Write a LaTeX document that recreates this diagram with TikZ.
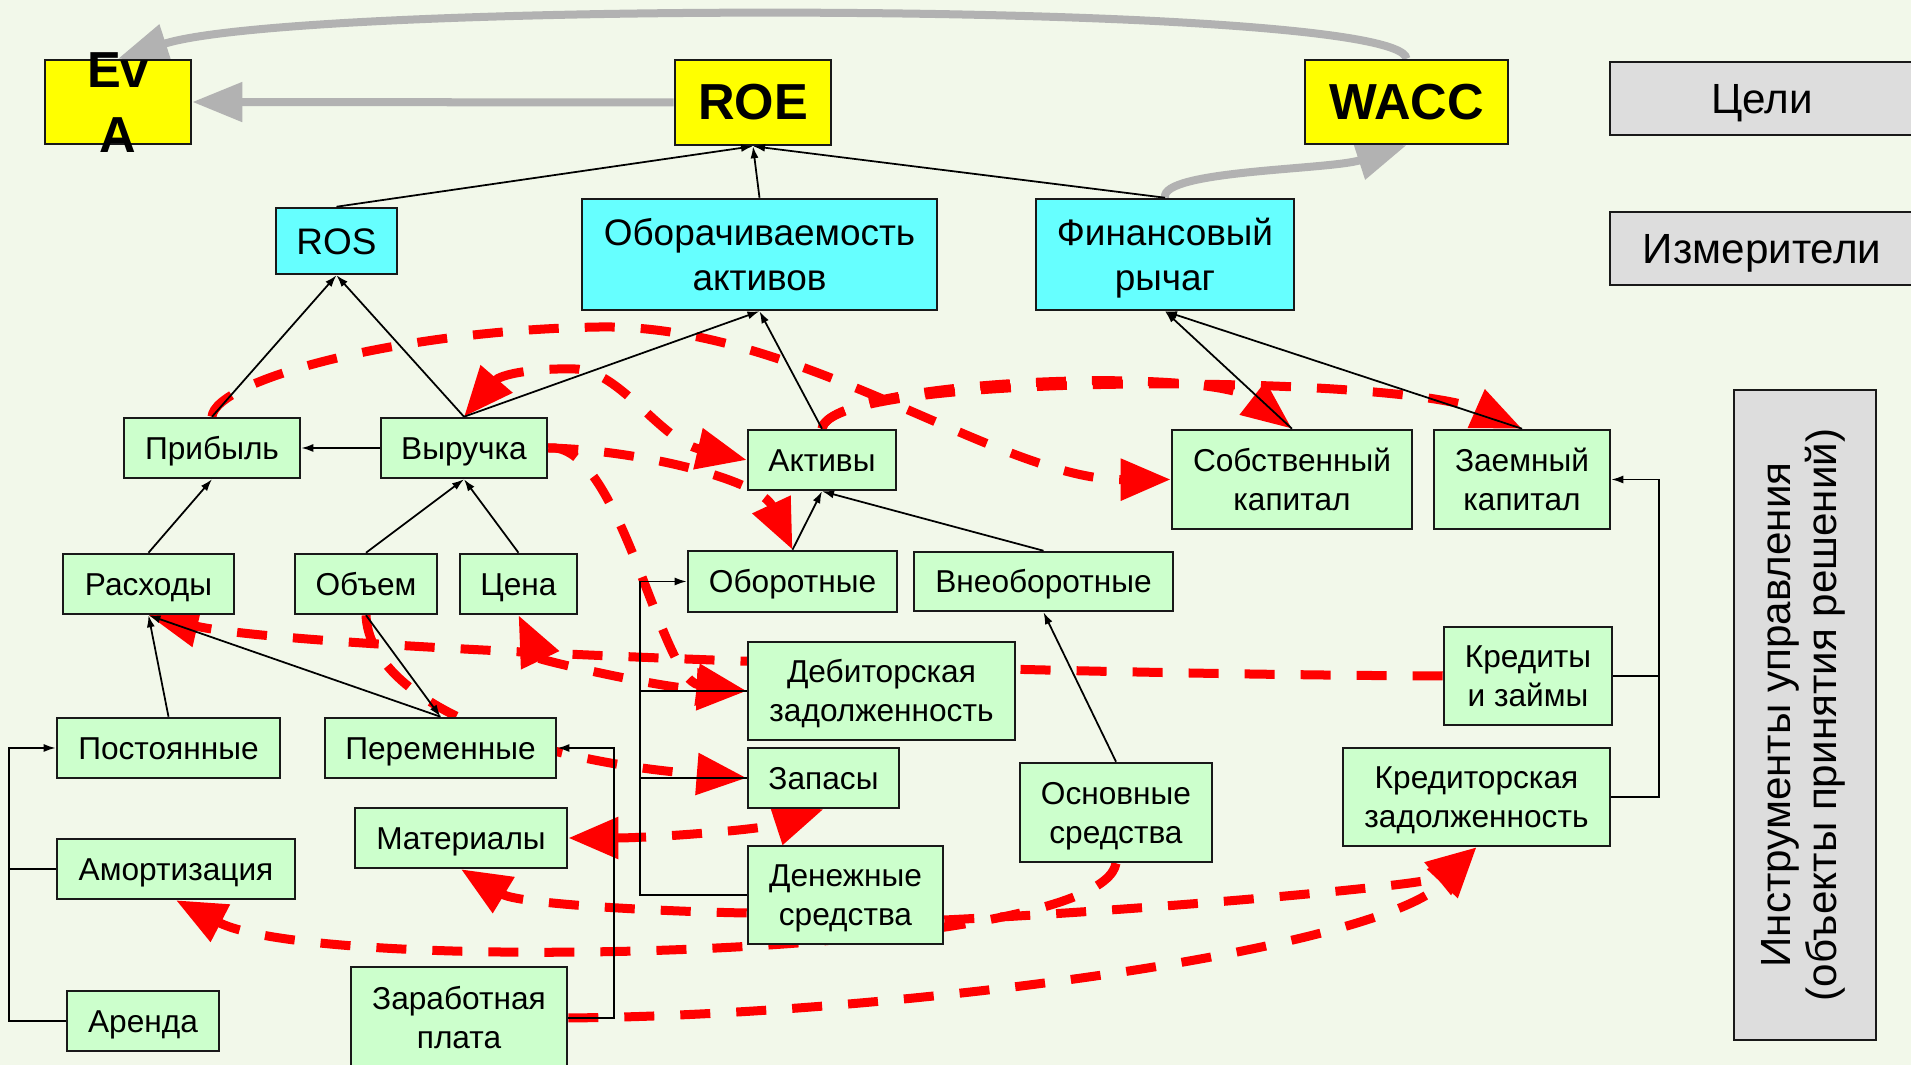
\documentclass[tikz,border=0pt]{standalone}
\usepackage{fontspec}
\setmainfont{Liberation Sans}
\usetikzlibrary{arrows.meta,calc}
\definecolor{BackClr}{rgb}{0.949,0.973,0.918}
\definecolor{GoalClr}{rgb}{1,1,0}
\definecolor{MeterClr}{rgb}{0.4,1,1}
\definecolor{ToolClr}{rgb}{0.8,1,0.8}
\definecolor{NoteClr}{rgb}{0.867,0.867,0.867}
\definecolor{FlowClr}{rgb}{0.7,0.7,0.7}
\definecolor{EdgeClr}{rgb}{0.1,0.1,0.1}
\newcommand\boxtop{\rule{0pt}{1.016em}}
\newcommand\boxfoot{\rule[-0.3em]{0pt}{0.3em}}
\newcommand\twoline[2]{\boxtop#1\\#2\boxfoot}
\pgfdeclarelayer{back}
\pgfsetlayers{back,main}

\begin{document}
\begin{tikzpicture}[x=0.01cm,y=-0.01cm,
  frame/.style={draw=EdgeClr,line width=0.7pt,inner sep=0pt,align=center},
  box/.style={frame,execute at begin node=\boxtop,execute at end node=\boxfoot},
  goal/.style={frame,fill=GoalClr,font=\fontsize{14.4}{18.5}\selectfont\bfseries},
  meter/.style={box,fill=MeterClr,font=\fontsize{10.5}{12.8}\selectfont},
  tool/.style={box,fill=ToolClr,font=\fontsize{9}{11.1}\selectfont},
  note/.style={box,fill=NoteClr,font=\fontsize{12}{13.1}\selectfont},
  link/.style={line width=0.5pt,>={Latex[length=1.2mm,width=0.8mm]},->},
  rail/.style={line width=0.6pt},
  plan/.style={red,line width=0.09cm,dash pattern=on 0.3cm off 0.26cm,>={Triangle[length=5mm,width=4mm]},->},
  twoway/.style={plan,<->},
  flow/.style={FlowClr,line width=0.08cm,>={Triangle[length=5mm,width=3.8mm]},->}]
\useasboundingbox (0,0) rectangle (1911,1065);

\node[goal,minimum width=1.46cm,minimum height=0.84cm] (eva) at (118,102)
  {\raisebox{-0.13cm}[0pt][0pt]{\parbox[c]{1.4cm}{\centering Ev\\A}}};
\node[goal,minimum width=1.56cm,minimum height=0.85cm] (roe) at (753,102.5) {ROE};
\node[goal,minimum width=2.03cm,minimum height=0.84cm] (wacc) at (1406.5,102) {WACC};

\node[note,minimum width=3.04cm,minimum height=0.73cm] (aims) at (1762,98.5) {Цели};
\node[note,minimum width=3.04cm,minimum height=0.73cm] (gauges) at (1762,248.5) {Измерители};
\node[note,rotate=90,minimum width=6.5cm,minimum height=1.42cm] (levers) at (1805,715) {Инструменты управления\\(объекты принятия решений)};

\node[meter,minimum width=1.21cm,minimum height=0.66cm] (ros) at (336.5,241) {ROS};
\node[meter,minimum width=3.55cm,minimum height=1.11cm] (turn) at (759.5,254.5) {\twoline{Оборачиваемость}{активов}};
\node[meter,minimum width=2.58cm,minimum height=1.11cm] (lev) at (1165,254.5) {\twoline{Финансовый}{рычаг}};

\node[tool,minimum width=1.76cm,minimum height=0.6cm] (profit) at (212,448) {Прибыль};
\node[tool,minimum width=1.66cm,minimum height=0.6cm] (rev) at (464,448) {Выручка};
\node[tool,minimum width=1.48cm,minimum height=0.6cm] (assets) at (822,460) {Активы};
\node[tool,minimum width=2.4cm,minimum height=0.99cm] (equity) at (1292,479.5) {\twoline{Собственный}{капитал}};
\node[tool,minimum width=1.76cm,minimum height=0.99cm] (debt) at (1522,479.5) {\twoline{Заемный}{капитал}};
\node[tool,minimum width=1.71cm,minimum height=0.6cm] (cost) at (148.5,584) {Расходы};
\node[tool,minimum width=1.42cm,minimum height=0.6cm] (vol) at (366,584) {Объем};
\node[tool,minimum width=1.17cm,minimum height=0.6cm] (price) at (518.5,584) {Цена};
\node[tool,minimum width=2.09cm,minimum height=0.61cm] (curr) at (792.5,581.5) {Оборотные};
\node[tool,minimum width=2.59cm,minimum height=0.59cm] (noncurr) at (1043.5,581.5) {Внеоборотные};
\node[tool,minimum width=2.67cm,minimum height=0.98cm] (recv) at (881.5,691) {\twoline{Дебиторская}{задолженность}};
\node[tool,minimum width=1.68cm,minimum height=0.98cm] (loans) at (1528,676) {\twoline{Кредиты}{и займы}};
\node[tool,minimum width=2.23cm,minimum height=0.6cm] (fixed) at (168.5,748) {Постоянные};
\node[tool,minimum width=2.31cm,minimum height=0.6cm] (var) at (440.5,748) {Переменные};
\node[tool,minimum width=1.51cm,minimum height=0.6cm] (stock) at (823.5,778) {Запасы};
\node[tool,minimum width=2.12cm,minimum height=0.6cm] (mat) at (461,838) {Материалы};
\node[tool,minimum width=2.38cm,minimum height=0.6cm] (depr) at (176,869) {Амортизация};
\node[tool,minimum width=1.92cm,minimum height=0.99cm] (fixass) at (1116,812.5) {\twoline{Основные}{средства}};
\node[tool,minimum width=2.67cm,minimum height=0.98cm] (pay) at (1476.5,797) {\twoline{Кредиторская}{задолженность}};
\node[tool,minimum width=1.95cm,minimum height=0.98cm] (cash) at (845.5,895) {\twoline{Денежные}{средства}};
\node[tool,minimum width=1.52cm,minimum height=0.6cm] (rent) at (143,1021) {Аренда};
\node[tool,minimum width=2.16cm,minimum height=1.02cm] (wage) at (459,1018) {\twoline{Заработная}{плата}};

\coordinate (lbr) at (9,0);
\coordinate (wbr) at (614,0);
\coordinate (abr) at (640,0);
\coordinate (kbr) at (1659,0);

\begin{pgfonlayer}{back}
\fill[BackClr] (0,0) rectangle (1911,1065);
\draw[flow] (roe.west) -- (eva.east);
\draw[flow] (wacc.north) .. controls (1400,0) and (300,0) .. (eva.north);
\draw[flow] (lev.north) .. controls (1160,170) and (1330,170) .. (wacc.south);

\draw[plan] (profit.north) .. controls (215,380) and (400,330) .. (600,327) .. controls (800,324) and (1000,480) .. (equity.west);
\draw[plan] (assets.north) .. controls (830,380) and (1210,365) .. (equity.north);
\draw[plan] (assets.north) .. controls (830,370) and (1400,375) .. (debt.north);
\draw[twoway] (rev.north) .. controls (500,375) and (530,368) .. (575,369) .. controls (620,370) and (660,440) .. (assets.west);
\draw[plan] (rev.east) .. controls (640,450) and (760,480) .. (curr.north);
\draw[plan] (rev.east) .. controls (620,440) and (660,680) .. (recv.west);
\draw[twoway] (price.south) .. controls (540,660) and (660,688) .. (recv.west);
\draw[plan] (loans.west) .. controls (1000,674) and (300,650) .. (cost.south);
\draw[plan] (vol.south) .. controls (370,700) and (520,760) .. (stock.west);
\draw[twoway] (mat.east) .. controls (650,838) and (760,830) .. (stock.south);
\draw[plan] ($(cash.west)+(0,18)$) .. controls (680,912) and (520,905) .. (mat.south);
\draw[plan] (fixass.south) .. controls (1100,960) and (320,975) .. (depr.south);
\draw[plan] ($(cash.east)+(0,25)$) .. controls (1150,910) and (1430,885) .. (pay.south);
\draw[plan] (wage.east) .. controls (900,1015) and (1380,950) .. (pay.south);
\end{pgfonlayer}

\foreach \a/\b in {ros/roe,turn/roe,lev/roe,profit/ros,rev/ros,rev/turn,assets/turn,
  cost/profit,vol/rev,price/rev,equity/lev,debt/lev,curr/assets,noncurr/assets,
  fixass/noncurr,fixed/cost,var/cost}
  \draw[link] (\a.north) -- (\b.south);
\draw[link] (rev.west) -- (profit.east);
\draw[link] (vol.south) -- (var.north);

\draw[link] (rent.west) -- (rent.west -| lbr) |- (fixed.west);
\draw[rail] (depr.west) -- (depr.west -| lbr);
\draw[link] (wage.east) -- (wage.east -| wbr) |- (var.east);
\draw[link] (cash.west) -- (cash.west -| abr) |- (curr.west);
\draw[rail] (recv.west) -- (recv.west -| abr);
\draw[rail] (stock.west) -- (stock.west -| abr);
\draw[link] (pay.east) -- (pay.east -| kbr) |- (debt.east);
\draw[rail] (loans.east) -- (loans.east -| kbr);

\end{tikzpicture}
\end{document}
